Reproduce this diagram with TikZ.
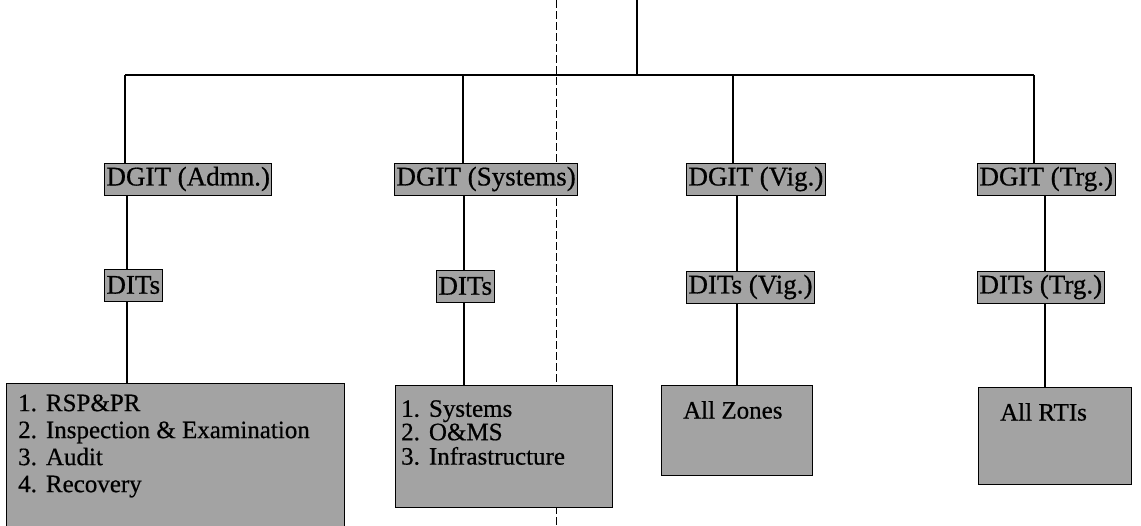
\documentclass[tikz,border=0pt]{standalone}
\usepackage{fontspec}
\setmainfont{Liberation Serif}
\newfontfamily\scanfont{Liberation Serif}[FakeBold=0.6]
\tikzset{
  post/.style={draw=black,line width=1pt,fill=black!36,anchor=west,
    inner xsep=2pt,inner ysep=0pt,minimum height=32pt,
    font=\scanfont\fontsize{27}{30}\selectfont},
  unit/.style={draw=black,line width=1.2pt,fill=black!36,anchor=north west,inner sep=0pt},
  duties/.style={anchor=north west,inner sep=0pt,align=left,
    font=\scanfont\fontsize{25}{27}\selectfont},
  link/.style={line width=1.6pt}
}
\begin{document}
\begin{tikzpicture}[x=1pt,y=-1pt]
  \useasboundingbox (0,0) rectangle (1141,525);
  % fold of the scanned page
  \draw[dash pattern=on 8pt off 3pt,line width=1pt] (556,0) -- (556,525);
  % posts
  \node[post] (dgA) at (104,179) {DGIT (Admn.)};
  \node[post] (dgS) at (394,179) {DGIT (Systems)};
  \node[post] (dgV) at (686,179) {DGIT (Vig.)};
  \node[post] (dgT) at (977,179) {DGIT (Trg.)};
  \node[post] (diA) at (104,285) {DITs};
  \node[post] (diS) at (436,286) {DITs};
  \node[post] (diV) at (686,287) {DITs (Vig.)};
  \node[post] (diT) at (977,287) {DITs (Trg.)};
  % charges
  \node[unit,minimum width=338pt,minimum height=150pt] (unA) at (6,383) {};
  \node[unit,minimum width=217pt,minimum height=122pt] (unS) at (395,385) {};
  \node[unit,minimum width=151pt,minimum height=90pt] (unV) at (661,385) {};
  \node[unit,minimum width=153pt,minimum height=97pt] (unT) at (978,387) {};
  \node[duties] (lsA) at (18,392) {\begin{tabular}{@{}l@{\hspace{9pt}}l@{}}
    1. & RSP\&PR\\ 2. & Inspection \& Examination\\ 3. & Audit\\ 4. & Recovery\end{tabular}};
  \node[duties] (lsS) at (401,400) {\def\arraystretch{0.84}%
    \begin{tabular}{@{}l@{\hspace{9pt}}l@{}}
    1. & Systems\\ 2. & O\&MS\\ 3. & Infrastructure\end{tabular}};
  \node[duties] (lsV) at (683,401) {All Zones};
  \node[duties] (lsT) at (1000,403) {All RTIs};
  % links
  \coordinate (head) at (637,0);
  \coordinate (hub) at (637,75);
  \coordinate (barA) at (125,75);
  \coordinate (barS) at (463,75);
  \coordinate (barV) at (733,75);
  \coordinate (barT) at (1034,75);
  \coordinate (colA) at (127,0);
  \coordinate (colS) at (464,0);
  \coordinate (colV) at (737,0);
  \coordinate (colT) at (1045,0);
  \draw[link] (head) -- (hub);
  \draw[link] (barA) -- (barT);
  \foreach \c in {A,S,V,T} {
    \draw[link] (bar\c) -- (bar\c |- dg\c.north);
    \draw[link] (dg\c.south -| col\c) -- (di\c.north -| col\c);
    \draw[link] (di\c.south -| col\c) -- (un\c.north -| col\c);
  }
\end{tikzpicture}
\end{document}
